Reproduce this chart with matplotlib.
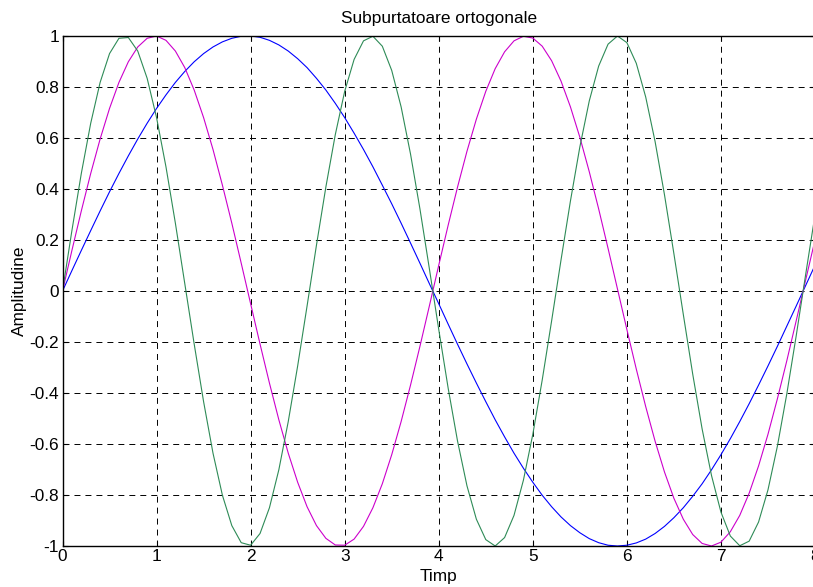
import matplotlib.pyplot as plt
import numpy as np

plt.rcParams["font.family"] = ["Liberation Sans", "DejaVu Sans"]
plt.rcParams["axes.unicode_minus"] = False
plt.rcParams["lines.scale_dashes"] = False

# sample times (step 0.1) and the three subcarriers
t = np.linspace(0, 8, 81)

blue = [
    0.000, 0.080, 0.159, 0.237, 0.314, 0.389, 0.461, 0.530, 0.596, 0.658,
    0.716, 0.769, 0.818, 0.861, 0.899, 0.931, 0.957, 0.977, 0.991, 0.999,
    1.000, 0.995, 0.983, 0.965, 0.941, 0.911, 0.876, 0.834, 0.788, 0.736,
    0.680, 0.619, 0.555, 0.487, 0.415, 0.342, 0.266, 0.188, 0.109, 0.029,
    -0.050, -0.130, -0.209, -0.286, -0.361, -0.434, -0.505, -0.572, -0.636, -0.695,
    -0.750, -0.801, -0.846, -0.886, -0.920, -0.948, -0.971, -0.987, -0.997, -1.000,
    -0.997, -0.988, -0.973, -0.951, -0.923, -0.889, -0.850, -0.805, -0.756, -0.701,
    -0.642, -0.579, -0.512, -0.442, -0.369, -0.294, -0.217, -0.138, -0.059, 0.021,
    0.101,
]

magenta = [
    0.000, 0.159, 0.314, 0.461, 0.596, 0.716, 0.818, 0.899, 0.957, 0.991,
    1.000, 0.983, 0.941, 0.876, 0.788, 0.680, 0.555, 0.415, 0.266, 0.109,
    -0.050, -0.208, -0.361, -0.505, -0.636, -0.750, -0.846, -0.920, -0.970, -0.996,
    -0.997, -0.973, -0.923, -0.850, -0.756, -0.642, -0.512, -0.369, -0.217, -0.059,
    0.101, 0.258, 0.408, 0.548, 0.674, 0.783, 0.872, 0.938, 0.981, 0.999,
    0.992, 0.960, 0.903, 0.823, 0.722, 0.603, 0.468, 0.322, 0.167, 0.008,
    -0.151, -0.306, -0.453, -0.589, -0.710, -0.813, -0.895, -0.955, -0.990, -1.000,
    -0.985, -0.944, -0.880, -0.793, -0.686, -0.562, -0.423, -0.274, -0.117, 0.042,
    0.200,
]

green = [
    0.000, 0.237, 0.461, 0.658, 0.818, 0.931, 0.991, 0.994, 0.941, 0.834,
    0.680, 0.487, 0.266, 0.029, -0.208, -0.434, -0.636, -0.801, -0.920, -0.987,
    -0.997, -0.951, -0.850, -0.701, -0.512, -0.294, -0.059, 0.180, 0.408, 0.613,
    0.783, 0.908, 0.981, 0.999, 0.960, 0.865, 0.722, 0.537, 0.322, 0.088,
    -0.151, -0.381, -0.589, -0.764, -0.895, -0.975, -1.000, -0.967, -0.880, -0.742,
    -0.562, -0.349, -0.117, 0.122, 0.353, 0.565, 0.745, 0.882, 0.968, 1.000,
    0.974, 0.893, 0.761, 0.586, 0.377, 0.146, -0.092, -0.326, -0.541, -0.724,
    -0.867, -0.961, -0.999, -0.981, -0.906, -0.780, -0.609, -0.404, -0.176, 0.063,
    0.298,
]

x_ticks = [0, 1, 2, 3, 4, 5, 6, 7, 8]
y_ticks = [-1, -0.8, -0.6, -0.4, -0.2, 0, 0.2, 0.4, 0.6, 0.8, 1]
y_labels = ["-1", "-0.8", "-0.6", "-0.4", "-0.2", "0", "0.2", "0.4", "0.6", "0.8", "1"]

fig = plt.figure(figsize=(8.13, 5.87), dpi=100)
ax = fig.add_axes([62.5 / 813, 41 / 587, 752.5 / 813, 510 / 587])

ax.plot(t, blue, color="#0000ff", lw=0.8)
ax.plot(t, magenta, color="#cc00cc", lw=0.8)
ax.plot(t, green, color="#2e8b57", lw=0.8)

ax.set_xlim(0, 8)
ax.set_ylim(-1, 1)
ax.set_xticks(x_ticks)
ax.set_xticklabels([str(v) for v in x_ticks])
ax.set_yticks(y_ticks)
ax.set_yticklabels(y_labels)
ax.tick_params(direction="in", length=3.6, width=0.8, labelsize=12.4,
               top=True, right=True, pad=2.5)
ax.grid(True, color="black", lw=0.7, linestyle=(0, (4.3, 3.6)))
for sp in ax.spines.values():
    sp.set_linewidth(1.0)

ax.set_title("Subpurtatoare ortogonale", fontsize=12.4, pad=9)
ax.set_xlabel("Timp", fontsize=12.4, labelpad=3)
ax.set_ylabel("Amplitudine", fontsize=12.4, labelpad=2)

fig.savefig("out.png", dpi=100)
